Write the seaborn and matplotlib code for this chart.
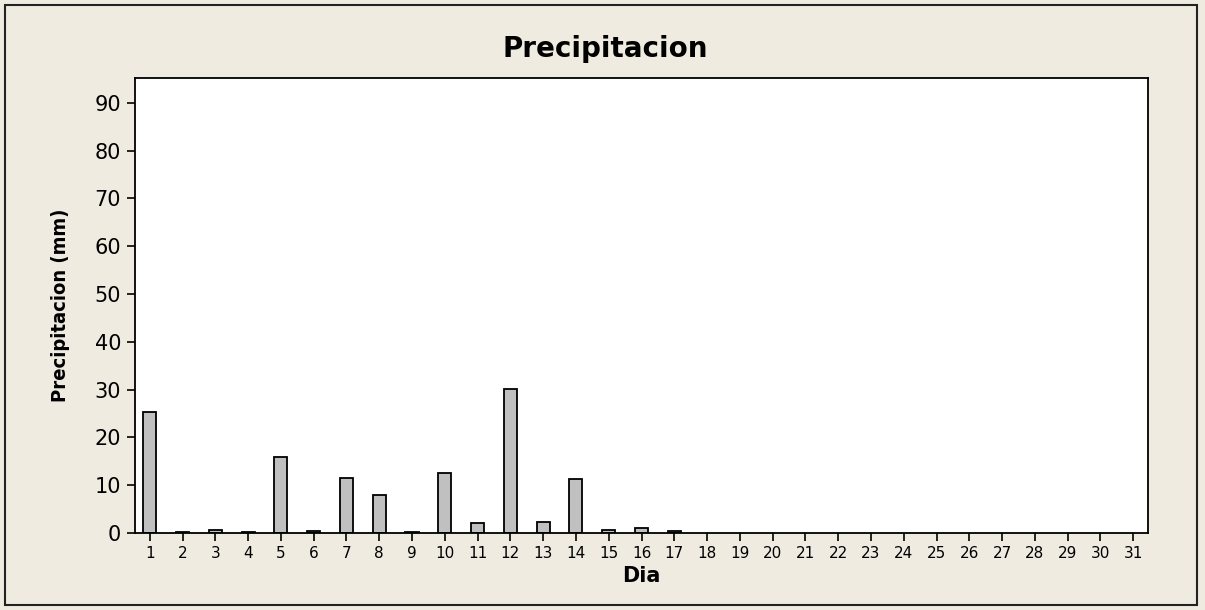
import numpy as np
import pandas as pd
import matplotlib.pyplot as plt
import seaborn as sns
from matplotlib.patches import Rectangle

# -- data ---------------------------------------------------------------------
dias = list(range(1, 32))
precip = [25.4, 0.2, 0.7, 0.2, 15.9, 0.4, 11.6, 7.9, 0.2, 12.5,
          2.0, 30.1, 2.4, 11.3, 0.7, 1.0, 0.4] + [np.nan] * 14
yticks = list(range(0, 100, 10))

df = pd.DataFrame({"Dia": dias, "Precipitacion": precip})

# -- figure -------------------------------------------------------------------
sns.set_style("ticks")
plt.rcParams["font.family"] = ["DejaVu Sans"]
for key in ["text.color", "axes.labelcolor", "xtick.color", "ytick.color"]:
    plt.rcParams[key] = "black"

bg = "#efebe1"
W, H = 1205, 610
fig = plt.figure(figsize=(W / 100, H / 100), dpi=100, facecolor=bg)
ax = fig.add_axes([135 / W, 1 - 533 / H, 1013 / W, 455 / H])
ax.set_facecolor("white")

# outer frame
fig.patches.append(Rectangle((5 / W, 5 / H), 1192 / W, 600 / H,
                             transform=fig.transFigure, fill=False,
                             edgecolor="#222222", linewidth=1.5))

sns.barplot(data=df, x="Dia", y="Precipitacion", order=dias, ax=ax,
            color="#c0c0c0", edgecolor="black", linewidth=1.3,
            width=0.4, saturation=1, errorbar=None)

ax.set_xlim(-0.45, 30.45)
ax.set_ylim(0, 95.2)
ax.set_yticks(yticks)
ax.set_yticklabels([str(t) for t in yticks], fontsize=15)
ax.tick_params(axis="y", length=6, width=1.2, direction="out", pad=4)
ax.tick_params(axis="x", length=6, width=1.2, direction="out", labelsize=11, pad=3)

for s in ax.spines.values():
    s.set_visible(True)
    s.set_linewidth(1.3)
    s.set_color("black")

fig.text(0.502, 1 - 56.7 / H, "Precipitacion", fontsize=20, fontweight="bold",
         ha="center", va="baseline")
ax.set_xlabel("Dia", fontsize=15, fontweight="bold", labelpad=4)
ax.set_ylabel("Precipitacion (mm)", fontsize=14.5, fontweight="bold",
              fontstretch="condensed")
ax.yaxis.set_label_coords(-(135 - 70) / 1013, 0.5)
ax.yaxis.label.set_va("bottom")

fig.savefig("out.png", dpi=100, facecolor=bg)
